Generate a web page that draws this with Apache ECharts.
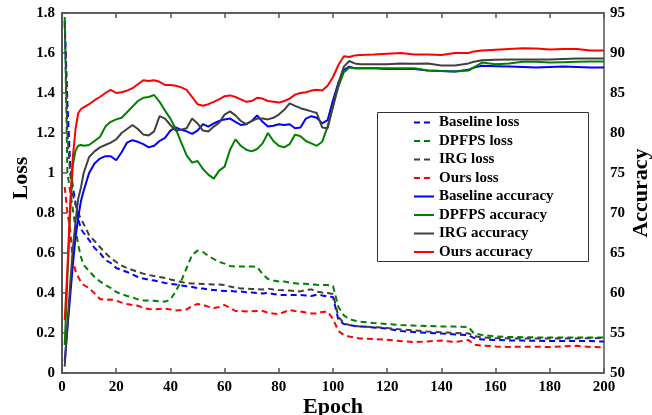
<!DOCTYPE html>
<html>
<head>
<meta charset="utf-8">
<script src="https://cdn.jsdelivr.net/npm/echarts@6/dist/echarts.min.js"></script>
<style>
    html,body{margin:0;padding:0;background:#fff;}
    #chart{width:652px;height:415px;}
</style>
</head>
<body>
<div id="chart"></div>
<script>
    // epochs shared by all curves
    var epochs = [1,2,3,4,5,6,7,8,10,12,14,16,18,20,22,24,26,28,30,32,34,36,38,40,42,44,46,48,50,52,54,56,58,60,62,64,66,68,70,72,74,76,78,80,82,84,86,88,90,92,94,96,98,100,102,104,106,108,110,115,120,125,130,135,140,145,150,152,155,160,165,170,175,180,185,190,195,200];

    // loss (left axis)
    var baselineLoss = [1.76,1.35,1.05,0.93,0.85,0.77,0.72,0.70,0.665,0.625,0.60,0.565,0.55,0.525,0.515,0.505,0.492,0.48,0.472,0.467,0.462,0.457,0.45,0.446,0.442,0.438,0.434,0.43,0.425,0.422,0.418,0.415,0.412,0.41,0.41,0.408,0.407,0.404,0.402,0.40,0.398,0.40,0.395,0.39,0.39,0.39,0.39,0.39,0.388,0.385,0.392,0.388,0.382,0.38,0.265,0.245,0.24,0.235,0.233,0.228,0.222,0.21,0.205,0.20,0.197,0.193,0.19,0.175,0.168,0.165,0.163,0.162,0.161,0.16,0.16,0.16,0.16,0.157];
    var dpfpsLoss = [1.78,1.0,0.91,0.82,0.72,0.64,0.58,0.54,0.51,0.48,0.458,0.44,0.425,0.405,0.395,0.385,0.378,0.368,0.363,0.362,0.361,0.358,0.357,0.367,0.41,0.46,0.525,0.59,0.612,0.605,0.585,0.57,0.555,0.547,0.535,0.532,0.532,0.532,0.532,0.53,0.495,0.47,0.463,0.458,0.457,0.452,0.449,0.446,0.446,0.443,0.441,0.44,0.44,0.435,0.33,0.288,0.27,0.262,0.257,0.25,0.245,0.24,0.237,0.235,0.233,0.232,0.23,0.198,0.19,0.183,0.18,0.179,0.178,0.178,0.178,0.178,0.177,0.177];
    var irgLoss = [1.75,1.2,1.0,0.89,0.84,0.80,0.77,0.745,0.69,0.66,0.63,0.60,0.575,0.555,0.537,0.525,0.515,0.505,0.497,0.49,0.485,0.48,0.475,0.468,0.462,0.455,0.45,0.448,0.447,0.445,0.444,0.443,0.443,0.44,0.432,0.426,0.423,0.422,0.42,0.419,0.418,0.422,0.417,0.415,0.414,0.412,0.41,0.408,0.415,0.418,0.407,0.402,0.40,0.395,0.28,0.25,0.24,0.236,0.233,0.23,0.225,0.218,0.213,0.207,0.204,0.20,0.198,0.185,0.178,0.174,0.173,0.173,0.173,0.173,0.173,0.173,0.174,0.175];
    var oursLoss = [0.93,0.80,0.72,0.56,0.51,0.48,0.455,0.44,0.425,0.398,0.37,0.366,0.368,0.362,0.352,0.345,0.34,0.336,0.325,0.32,0.318,0.32,0.322,0.318,0.313,0.315,0.318,0.335,0.345,0.34,0.332,0.325,0.33,0.34,0.325,0.31,0.31,0.308,0.309,0.31,0.31,0.302,0.297,0.295,0.305,0.315,0.31,0.307,0.302,0.298,0.298,0.305,0.307,0.27,0.21,0.19,0.182,0.177,0.173,0.17,0.166,0.16,0.155,0.158,0.162,0.155,0.165,0.142,0.137,0.133,0.13,0.132,0.131,0.13,0.133,0.136,0.13,0.128];

    // accuracy (right axis)
    var baselineAcc = [51.5,55.5,59.5,63.5,67,69.5,71.5,72.8,75.0,76.2,76.8,77.1,77.1,76.6,77.6,78.8,79.1,78.9,78.6,78.2,78.4,79.0,79.4,80.3,80.7,80.4,80.2,79.9,80.3,81.1,80.8,81.2,81.5,81.7,81.8,81.4,81.0,81.1,81.5,82.2,81.4,80.8,80.9,81.1,81.0,81.1,80.6,80.7,81.8,82.1,81.9,81.2,81.6,84.1,86.3,87.9,88.3,88.1,88.1,88.1,88.0,88.0,88.0,87.8,87.75,87.7,87.9,88.2,88.4,88.35,88.3,88.25,88.2,88.25,88.3,88.25,88.2,88.2];
    var dpfpsAcc = [53.5,62,70,76,77.8,78.4,78.5,78.4,78.5,79.0,79.5,80.8,81.4,81.7,81.9,82.6,83.3,84.0,84.4,84.5,84.75,83.9,82.8,81.8,80.5,78.8,77.2,76.3,76.5,75.5,74.8,74.3,75.3,75.8,77.9,79.2,78.4,77.9,77.7,78.0,78.7,80.0,79.0,78.4,78.2,78.6,79.8,79.6,79.0,78.7,78.4,78.9,80.8,83.3,85.8,87.6,88.2,88.1,88.1,88.1,88.1,88.1,88.1,87.8,87.75,87.7,87.8,88.2,88.8,88.6,88.7,88.9,88.9,88.8,88.85,88.9,88.95,88.95];
    var irgAcc = [50.8,56,61,65.5,69,71.8,73.2,75.0,77.0,77.7,78.2,78.5,78.8,79.2,80.0,80.5,81.0,80.5,79.8,79.7,80.2,82.1,81.8,81.0,80.3,80.4,80.6,81.8,81.2,80.3,80.2,80.8,81.3,82.3,82.7,82.2,81.5,81.1,81.5,81.8,81.8,81.7,81.9,82.3,82.9,83.7,83.4,83.1,82.9,82.7,82.5,80.7,80.6,83.3,86.2,88.3,89.0,88.7,88.6,88.6,88.6,88.7,88.65,88.7,88.45,88.45,88.7,88.9,89.1,89.15,89.2,89.2,89.2,89.2,89.25,89.3,89.3,89.3];
    var oursAcc = [56.6,63,71,77,80.5,82.5,83,83.2,83.6,84.1,84.5,85.0,85.4,85.0,85.1,85.3,85.6,86.1,86.6,86.5,86.6,86.4,86.0,86.0,85.9,85.7,85.4,84.5,83.6,83.4,83.6,83.9,84.2,84.6,84.7,84.5,84.2,83.9,84.0,84.4,84.3,84.0,83.9,83.8,84.0,84.3,84.8,85.0,85.1,85.3,85.4,85.3,85.9,87.0,88.5,89.6,89.5,89.7,89.75,89.8,89.9,90.0,89.8,89.8,89.75,90.0,90.0,90.2,90.3,90.4,90.5,90.6,90.55,90.45,90.5,90.5,90.3,90.3];

    var seriesNames = ['Baseline loss','DPFPS loss','IRG loss','Ours loss','Baseline accuracy','DPFPS accuracy','IRG accuracy','Ours accuracy'];
    var seriesData = [baselineLoss, dpfpsLoss, irgLoss, oursLoss, baselineAcc, dpfpsAcc, irgAcc, oursAcc];
    var colorList = ['#0000ff','#008000','#404040','#ff0000'];

    var font = 'Liberation Serif';
    var axisColor = '#555';

    var myChart = echarts.init(document.getElementById('chart'));
    var _option = {
        animation: false,
        backgroundColor: '#fff',
        grid: {
            left: 62, right: 48, top: 13, bottom: 42,
            outerBoundsMode: 'none',
            show: true, borderColor: axisColor, borderWidth: 1.5
        },
        legend: {
            orient: 'vertical',
            left: 413, top: 115,
            padding: 0,
            itemWidth: 20, itemHeight: 14, itemGap: 3.5,
            data: seriesNames,
            itemStyle: {opacity: 0, borderWidth: 0},
            textStyle: {color: '#000', fontFamily: font, fontWeight: 'bold', fontSize: 15}
        },
        graphic: [{
            type: 'rect', left: 377, top: 112, z: 3,
            shape: {width: 211, height: 149},
            style: {fill: '#fff', stroke: '#333', lineWidth: 1}
        }],
        xAxis: [
            {
                type: 'value', min: 0, max: 200, interval: 20,
                name: 'Epoch', nameLocation: 'middle', nameGap: 23, nameMoveOverlap: false,
                nameTextStyle: {color: '#000', fontFamily: font, fontWeight: 'bold', fontSize: 22},
                axisLine: {lineStyle: {color: axisColor, width: 1.5}},
                axisTick: {show: true, inside: true, length: 5, lineStyle: {color: axisColor, width: 1.5}},
                axisLabel: {color: '#000', fontFamily: font, fontWeight: 'bold', fontSize: 15, margin: 7},
                splitLine: {show: false}
            },
            {
                type: 'value', min: 0, max: 200, interval: 20, position: 'top',
                axisLine: {lineStyle: {color: axisColor, width: 1.5}},
                axisTick: {show: true, inside: true, length: 5, lineStyle: {color: axisColor, width: 1.5}},
                axisLabel: {show: false},
                splitLine: {show: false}
            }
        ],
        yAxis: [
            {
                type: 'value', min: 0, max: 1.8, interval: 0.2,
                name: 'Loss', nameLocation: 'middle', nameGap: 30, nameRotate: 90, nameMoveOverlap: false,
                nameTextStyle: {color: '#000', fontFamily: font, fontWeight: 'bold', fontSize: 22, padding: [0, 0, 0, 30]},
                axisLine: {show: true, lineStyle: {color: axisColor, width: 1.5}},
                axisTick: {show: false},
                axisLabel: {
                    color: '#000', fontFamily: font, fontWeight: 'bold', fontSize: 15, margin: 7,
                    formatter: function (v) { return String(+v.toFixed(1)); }
                },
                splitLine: {show: false}
            },
            {
                type: 'value', min: 50, max: 95, interval: 5, position: 'right',
                name: 'Accuracy', nameLocation: 'middle', nameGap: 26, nameRotate: 90, nameMoveOverlap: false,
                nameTextStyle: {color: '#000', fontFamily: font, fontWeight: 'bold', fontSize: 22},
                axisLine: {show: true, lineStyle: {color: axisColor, width: 1.5}},
                axisTick: {show: true, inside: false, length: 5, lineStyle: {color: axisColor, width: 1.5}},
                axisLabel: {color: '#000', fontFamily: font, fontWeight: 'bold', fontSize: 15, margin: 6},
                splitLine: {show: false}
            }
        ],
        series: []
    };

    for (var i = 0; i < seriesData.length; i++) {
        var isLoss = i < 4;
        var points = [];
        for (var j = 0; j < epochs.length; j++) {
            points.push([epochs[j], seriesData[i][j]]);
        }
        _option.series.push({
            name: seriesNames[i],
            type: 'line',
            yAxisIndex: isLoss ? 0 : 1,
            data: points,
            symbol: 'none',
            z: 2,
            itemStyle: {color: colorList[i % 4]},
            lineStyle: {color: colorList[i % 4], width: 2, type: isLoss ? [6, 4] : 'solid'}
        });
    }

    myChart.setOption(_option);
</script>
</body>
</html>
